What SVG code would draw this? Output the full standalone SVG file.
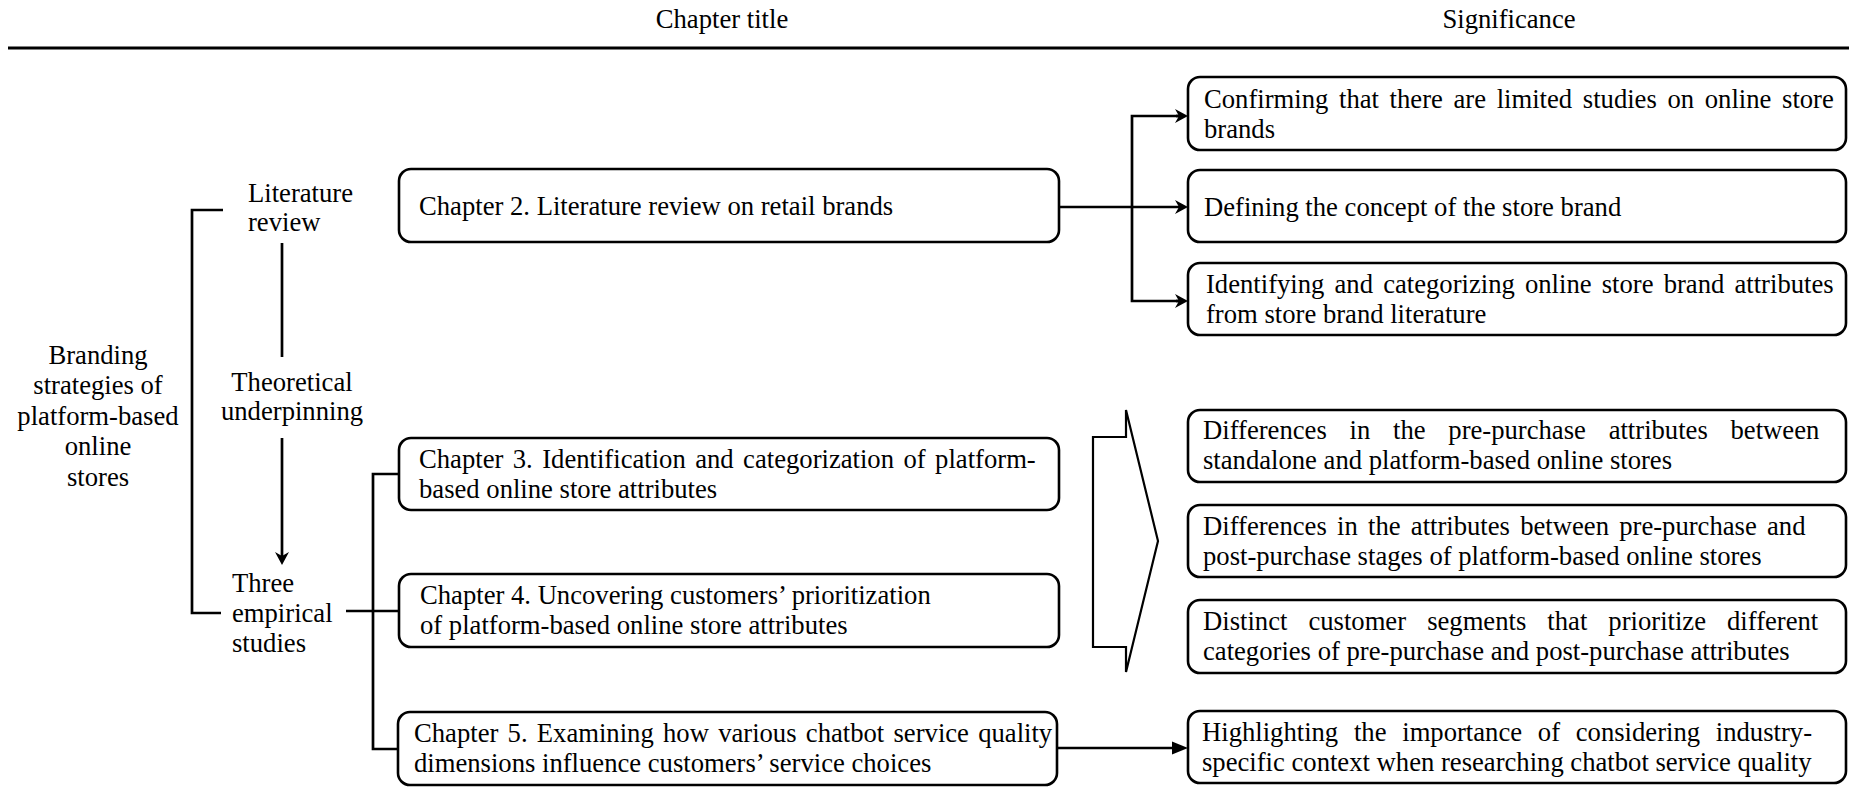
<svg xmlns="http://www.w3.org/2000/svg" width="1849" height="806" viewBox="0 0 1849 806">
<style>
text{font-family:"Liberation Serif","Times New Roman",serif;font-size:26.65px;fill:#000}
.mid{text-anchor:middle}
.box{fill:#fff;stroke:#000;stroke-width:2.6}
.ln{fill:none;stroke:#000;stroke-width:2.7}
</style>
<defs>
<marker id="stealth" viewBox="0 0 14 14" markerWidth="14" markerHeight="14" refX="8" refY="7" orient="auto" markerUnits="userSpaceOnUse"><path d="M14,7 L1,0 L5,7 L1,14 Z" fill="#000"/></marker>
<marker id="tri" viewBox="0 0 16 14" markerWidth="16" markerHeight="14" refX="8" refY="7" orient="auto" markerUnits="userSpaceOnUse"><path d="M16,7 L0,0.5 L0,13.5 Z" fill="#000"/></marker>
</defs>
<rect width="1849" height="806" fill="#fff"/>
<g id="header">
<text class="mid" x="722" y="28">Chapter title</text>
<text class="mid" x="1509" y="28">Significance</text>
<line x1="8" y1="48" x2="1849" y2="48" stroke="#000" stroke-width="3"/>
</g>
<g id="connectors">
<path class="ln" d="M223,210 H192 V613 H221"/>
<path class="ln" d="M282,243 V357"/>
<path class="ln" d="M282,438 V559" marker-end="url(#stealth)"/>
<path class="ln" d="M346,611 H399"/>
<path class="ln" d="M399,474 H373 V749 H399"/>
<path class="ln" d="M1059,207 H1182" marker-end="url(#stealth)"/>
<path class="ln" d="M1182,116 H1132 V301 H1182"/>
<path class="ln" d="M1176,116 H1182" marker-end="url(#stealth)"/>
<path class="ln" d="M1176,301 H1182" marker-end="url(#stealth)"/>
<path class="ln" d="M1057,748 H1180" marker-end="url(#tri)"/>
<polygon id="chevron" points="1093,437 1126,437 1126,410 1158,541 1126,672 1126,647 1093,647" fill="#fff" stroke="#000" stroke-width="2.2"/>
</g>
<g id="branding"><text class="mid"><tspan x="98" y="364">Branding</tspan><tspan x="98" y="394">strategies of</tspan><tspan x="98" y="425">platform-based</tspan><tspan x="98" y="455">online</tspan><tspan x="98" y="486">stores</tspan></text></g>
<g id="literature-review"><text><tspan x="248" y="202">Literature</tspan><tspan x="248" y="231">review</tspan></text></g>
<g id="theoretical"><text class="mid"><tspan x="292" y="391">Theoretical</tspan><tspan x="292" y="420">underpinning</tspan></text></g>
<g id="empirical"><text><tspan x="232" y="592">Three</tspan><tspan x="232" y="622">empirical</tspan><tspan x="232" y="652">studies</tspan></text></g>
<g id="ch2"><rect class="box" x="399" y="169" width="660" height="73" rx="12"/><text x="419" y="215">Chapter 2. Literature review on retail brands</text></g>
<g id="ch3"><rect class="box" x="399" y="438" width="660" height="72" rx="12"/><text><tspan x="419" y="468" style="word-spacing:2.8px">Chapter 3. Identification and categorization of platform-</tspan><tspan x="419" y="498">based online store attributes</tspan></text></g>
<g id="ch4"><rect class="box" x="399" y="574" width="660" height="73" rx="12"/><text><tspan x="420" y="604">Chapter 4. Uncovering customers’ prioritization</tspan><tspan x="420" y="634">of platform-based online store attributes</tspan></text></g>
<g id="ch5"><rect class="box" x="398" y="712" width="659" height="73" rx="12"/><text><tspan x="414" y="742" style="word-spacing:2.6px">Chapter 5. Examining how various chatbot service quality</tspan><tspan x="414" y="772">dimensions influence customers’ service choices</tspan></text></g>
<g id="sig1"><rect class="box" x="1188" y="77" width="658" height="73" rx="12"/><text><tspan x="1204" y="108" style="word-spacing:4px">Confirming that there are limited studies on online store</tspan><tspan x="1204" y="138">brands</tspan></text></g>
<g id="sig2"><rect class="box" x="1188" y="170" width="658" height="72" rx="12"/><text x="1204" y="216">Defining the concept of the store brand</text></g>
<g id="sig3"><rect class="box" x="1188" y="263" width="658" height="72" rx="12"/><text><tspan x="1206" y="293" style="word-spacing:3.5px">Identifying and categorizing online store brand attributes</tspan><tspan x="1206" y="323">from store brand literature</tspan></text></g>
<g id="sigA"><rect class="box" x="1188" y="410" width="658" height="72" rx="12"/><text><tspan x="1203" y="439" style="word-spacing:16.1px">Differences in the pre-purchase attributes between</tspan><tspan x="1203" y="469">standalone and platform-based online stores</tspan></text></g>
<g id="sigB"><rect class="box" x="1188" y="505" width="658" height="72" rx="12"/><text><tspan x="1203" y="535" style="word-spacing:3.6px">Differences in the attributes between pre-purchase and</tspan><tspan x="1203" y="565">post-purchase stages of platform-based online stores</tspan></text></g>
<g id="sigC"><rect class="box" x="1188" y="600" width="658" height="73" rx="12"/><text><tspan x="1203" y="630" style="word-spacing:14.4px">Distinct customer segments that prioritize different</tspan><tspan x="1203" y="660">categories of pre-purchase and post-purchase attributes</tspan></text></g>
<g id="sigD"><rect class="box" x="1188" y="711" width="658" height="72" rx="12"/><text><tspan x="1202" y="741" style="word-spacing:9.1px">Highlighting the importance of considering industry-</tspan><tspan x="1202" y="771">specific context when researching chatbot service quality</tspan></text></g>
</svg>
